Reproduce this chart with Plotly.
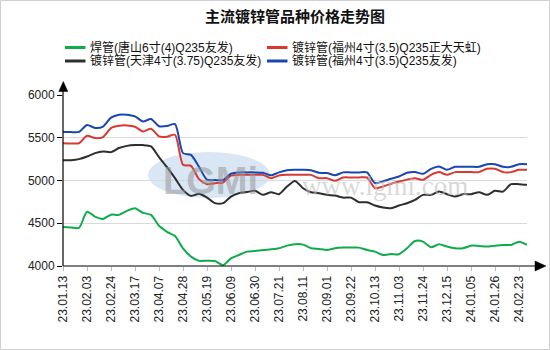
import pandas as pd
import plotly.graph_objects as go

# ---------------- data ----------------
dates = list(pd.date_range("2023-01-13", "2024-02-09", freq="7D")) + [pd.Timestamp("2024-02-23"), pd.Timestamp("2024-03-01")]
categories = [d.strftime("%y.%m.%d") for d in dates]

tick_labels = ["23.01.13", "23.02.03", "23.02.24", "23.03.17", "23.04.07", "23.04.28",
               "23.05.19", "23.06.09", "23.06.30", "23.07.21", "23.08.11", "23.09.01",
               "23.09.22", "23.10.13", "23.11.03", "23.11.24", "23.12.15", "24.01.05",
               "24.01.26", "24.02.23"]

green_name = "焊管(唐山6寸(4)Q235友发)"
green = [4457, 4450, 4445, 4635, 4578, 4551, 4600, 4598, 4645, 4676,
         4621, 4598, 4470, 4400, 4350, 4205, 4110, 4060, 4062, 4058,
         4010, 4090, 4129, 4168, 4175, 4187, 4195, 4207, 4238, 4255,
         4250, 4207, 4200, 4187, 4207, 4215, 4215, 4215, 4187, 4168,
         4129, 4141, 4137, 4207, 4293, 4285, 4219, 4254, 4227, 4207,
         4207, 4238, 4234, 4227, 4238, 4246, 4246, 4285, 4246]

red_name = "镀锌管(福州4寸(3.5)Q235正大天虹)"
red = [5437, 5434, 5436, 5523, 5496, 5508, 5613, 5640, 5644, 5629,
       5574, 5605, 5516, 5512, 5535, 5184, 5172, 5016, 4957, 4969,
       4977, 5059, 5066, 5066, 5066, 5066, 5027, 5059, 5066, 5066,
       5066, 5066, 5027, 5027, 4996, 5035, 5035, 5035, 5035, 4910,
       4930, 4961, 4988, 5010, 5027, 5008, 5066, 5098, 5066, 5098,
       5098, 5098, 5098, 5137, 5137, 5098, 5098, 5125, 5125]

black_name = "镀锌管(天津4寸(3.75)Q235友发)"
black = [5238, 5238, 5250, 5280, 5320, 5340, 5332, 5380, 5405, 5414,
         5414, 5398, 5273, 5156, 5027, 4890, 4820, 4845, 4800, 4735,
         4735, 4812, 4852, 4865, 4879, 4832, 4863, 4840, 4930, 4995,
         4910, 4863, 4852, 4832, 4824, 4800, 4800, 4746, 4746, 4707,
         4684, 4676, 4707, 4734, 4773, 4832, 4832, 4871, 4840, 4812,
         4840, 4840, 4863, 4832, 4879, 4871, 4957, 4957, 4949]

blue_name = "镀锌管(福州4寸(3.5)Q235友发)"
blue = [5570, 5566, 5568, 5650, 5615, 5630, 5735, 5770, 5770, 5750,
        5690, 5720, 5635, 5637, 5660, 5320, 5300, 5160, 5010, 5005,
        5005, 5080, 5095, 5095, 5095, 5090, 5060, 5095, 5120, 5125,
        5125, 5120, 5090, 5088, 5060, 5095, 5095, 5095, 5095, 4970,
        4990, 5020, 5047, 5090, 5100, 5078, 5135, 5164, 5125, 5160,
        5160, 5160, 5160, 5190, 5190, 5160, 5160, 5190, 5190]

y_ticks = [4000, 4500, 5000, 5500, 6000]

# ---------------- styling ----------------
W, H = 550, 350
L, R, T, B = 63, 23, 95, 84
PW, PH = W - L - R, H - T - B

def px(xp):
    return (xp - L) / PW

def py(yp):
    return (H - B - yp) / PH

series = [
    (green_name, green, "#10ac4c"),
    (red_name, red, "#d63a33"),
    (black_name, black, "#2e2e2e"),
    (blue_name, blue, "#1b46b2"),
]

fig = go.Figure()
for name, vals, col in series:
    fig.add_trace(go.Scatter(
        x=categories, y=vals, name=name, mode="lines",
        line=dict(color=col, width=2, shape="spline", smoothing=0.7),
        showlegend=False,
    ))

shapes = []
annotations = []

# outer border
shapes.append(dict(type="rect", xref="paper", yref="paper",
                   x0=px(0.5), x1=px(549.5), y0=py(349.5), y1=py(0.5),
                   line=dict(color="#d0d0d0", width=1), layer="below"))

# watermark logo (ellipse + text)
shapes.append(dict(type="circle", xref="paper", yref="paper",
                   x0=px(148), x1=px(270), y0=py(198), y1=py(152),
                   fillcolor="rgba(170,200,230,0.45)", line=dict(width=0), layer="below"))
annotations.append(dict(text="<b>LGMi</b>", xref="paper", yref="paper",
                        x=px(210), y=py(181), xanchor="center", yanchor="middle",
                        showarrow=False,
                        font=dict(family="Liberation Sans", size=38, color="rgba(150,150,150,0.55)")))
annotations.append(dict(text="www.lgmi.com", xref="paper", yref="paper",
                        x=px(385), y=py(186), xanchor="center", yanchor="middle",
                        showarrow=False,
                        font=dict(family="Liberation Serif", size=27, color="rgba(190,190,190,0.6)")))

# axis extensions and arrows
shapes.append(dict(type="line", xref="paper", yref="paper",
                   x0=0, x1=px(536), y0=0, y1=0, line=dict(color="black", width=1.2)))
shapes.append(dict(type="path", xref="paper", yref="paper",
                   path=f"M {px(535)} {py(261)} L {px(546)} {py(266)} L {px(535)} {py(271)} Z",
                   fillcolor="black", line=dict(color="black", width=0.5)))
shapes.append(dict(type="line", xref="paper", yref="paper",
                   x0=0, x1=0, y0=0, y1=py(90), line=dict(color="black", width=1.2)))
shapes.append(dict(type="path", xref="paper", yref="paper",
                   path=f"M {px(58.8)} {py(91.5)} L {px(63.3)} {py(81.5)} L {px(67.8)} {py(91.5)} Z",
                   fillcolor="black", line=dict(color="black", width=0.5)))

# manual legend (two columns)
leg_font = dict(family="Liberation Sans, Noto Sans CJK SC", size=12, color="#111111")
leg_pos = [(65, 47.5), (267, 47.5), (65, 61), (267, 61)]
for (name, vals, col), (lx, ly) in zip(series, leg_pos):
    shapes.append(dict(type="line", xref="paper", yref="paper",
                       x0=px(lx), x1=px(lx + 20.5), y0=py(ly), y1=py(ly),
                       line=dict(color=col, width=3)))
    annotations.append(dict(text=name, xref="paper", yref="paper",
                            x=px(lx + 23), y=py(ly), xanchor="left", yanchor="middle",
                            showarrow=False, font=leg_font))

fig.update_layout(
    width=W, height=H,
    margin=dict(l=L, r=R, t=T, b=B),
    paper_bgcolor="white", plot_bgcolor="white",
    title=dict(text="<b>主流镀锌管品种价格走势图</b>", x=0.5, xanchor="center",
               xref="paper", y=1 - 17 / H, yanchor="middle", yref="container",
               font=dict(family="Noto Sans CJK SC", size=15, color="#111111")),
    shapes=shapes, annotations=annotations,
    showlegend=False,
    xaxis=dict(type="category", range=[0, len(categories) - 1],
               tickmode="array", tickvals=tick_labels, ticktext=tick_labels,
               tickangle=-90, ticks="outside", ticklen=4, tickcolor="#bbbbbb",
               showline=False, showgrid=False, zeroline=False,
               tickfont=dict(family="Liberation Sans", size=12, color="#222222")),
    yaxis=dict(range=[4000, 6000], tickvals=y_ticks,
               ticks="outside", ticklen=5, tickcolor="black",
               showline=False, showgrid=True, gridcolor="#d9d9d9", gridwidth=1,
               zeroline=False,
               tickfont=dict(family="Liberation Sans", size=12, color="#222222")),
)

fig.write_html("out.html")
